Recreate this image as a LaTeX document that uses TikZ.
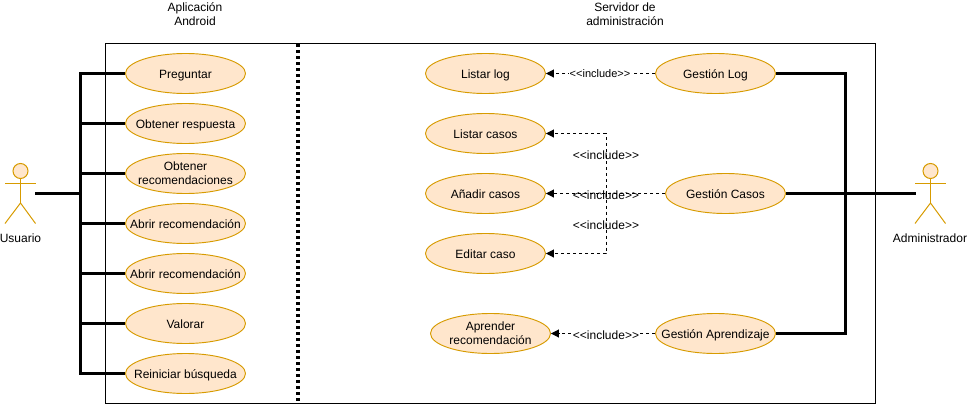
\documentclass[tikz,border=0pt]{standalone}
\usepackage{fontspec}
\setmainfont{Liberation Sans}
\usetikzlibrary{arrows.meta, positioning, shapes.geometric}
\definecolor{usecasebg}{HTML}{FFE6CC}
\definecolor{usecaseborder}{HTML}{D79B00}

\begin{document}
\begin{tikzpicture}[
    x=0.75pt,
    y=-0.75pt,
    >=Stealth,
    font=\fontsize{9}{10.5}\selectfont,
    usecase/.style={ellipse, draw=usecaseborder, fill=usecasebg, line width=0.7pt, minimum width=90pt, minimum height=30pt, inner xsep=-12pt, inner ysep=-2pt, align=center, text height=8pt, text depth=1pt},
    usecasetwo/.style={usecase, text height=19pt, text depth=2pt},
    actorline/.style={draw=usecaseborder, line width=0.75pt},
    bus/.style={line width=2.25pt, line join=miter},
    incl/.style={line width=0.75pt, dash pattern=on 2.25pt off 2.25pt, -{Triangle[length=6pt,width=6pt]}},
    incllabel/.style={inner sep=0.5pt}
]
    \useasboundingbox (0,0) rectangle (968,407);

    % System frame
    \draw[line width=0.75pt] (105.5,43.5) rectangle (875.5,403.5);
    \draw[line width=3.4pt, dash pattern=on 2.25pt off 2.25pt] (298,44) -- (298,403);

    % Headers
    \node[align=center] (hdr_android) at (195,14) {Aplicación\\Android};
    \node[align=center] (hdr_server) at (625,14) {Servidor de\\administración};

    % --- ANDROID (Left Side) ---
    \node[usecase] (preguntar) at (185.5,73.5) {Preguntar};
    \node[usecase] (respuesta) at (185.5,123.5) {Obtener respuesta};
    \node[usecasetwo] (recomendaciones) at (185.5,173.5) {Obtener\\recomendaciones};
    \node[usecase] (abrir_a) at (185.5,223.5) {Abrir recomendación};
    \node[usecase] (abrir_b) at (185.5,273.5) {Abrir recomendación};
    \node[usecase] (valorar) at (185.5,323.5) {Valorar};
    \node[usecase] (reiniciar) at (185.5,373.5) {Reiniciar búsqueda};

    % --- SERVER (Right Side) ---
    \node[usecase] (listar_log) at (485.5,73.5) {Listar log};
    \node[usecase] (listar_casos) at (485.5,133.5) {Listar casos};
    \node[usecase] (anadir_casos) at (485.5,193.5) {Añadir casos};
    \node[usecase] (editar_caso) at (485.5,253.5) {Editar caso};
    \node[usecasetwo] (aprender) at (490.5,333.5) {Aprender\\recomendación};

    \node[usecase] (gest_log) at (715.5,73.5) {Gestión Log};
    \node[usecase] (gest_casos) at (725.5,193.5) {Gestión Casos};
    \node[usecase] (gest_apr) at (715.5,333.5) {Gestión Aprendizaje};

    % Usuario actor
    \node[circle, draw=usecaseborder, fill=usecasebg, line width=0.75pt, minimum size=11.25pt, inner sep=0pt] (usr_head) at (20.5,171) {};
    \coordinate (usr_hip) at (20.5,203);
    \coordinate (usr_hand) at (35,193);
    \draw[actorline] (usr_head) -- (usr_hip);
    \draw[actorline] (5,183.5) -- (35.5,183.5);
    \draw[actorline] (5,223.5) -- (usr_hip) -- (35.5,223.5);
    \node (usr_text) at (20.5,238) {Usuario};

    % Administrador actor
    \node[circle, draw=usecaseborder, fill=usecasebg, line width=0.75pt, minimum size=11.25pt, inner sep=0pt] (adm_head) at (930.5,171) {};
    \coordinate (adm_hip) at (930.5,203);
    \coordinate (adm_hand) at (915.5,193.5);
    \draw[actorline] (adm_head) -- (adm_hip);
    \draw[actorline] (915,183.5) -- (945.5,183.5);
    \draw[actorline] (915,223.5) -- (adm_hip) -- (945.5,223.5);
    \node (adm_text) at (930,238) {Administrador};

    % Usuario to use cases
    \coordinate (usr_bus) at (80.5,193.5);
    \draw[bus] (usr_hand |- usr_bus) -- (usr_bus);
    \draw[bus] (usr_bus) |- (preguntar);
    \draw[bus] (usr_bus) |- (respuesta);
    \draw[bus] (usr_bus) |- (recomendaciones);
    \draw[bus] (usr_bus) |- (abrir_a);
    \draw[bus] (usr_bus) |- (abrir_b);
    \draw[bus] (usr_bus) |- (valorar);
    \draw[bus] (usr_bus) |- (reiniciar);

    % Administrador to use cases
    \coordinate (adm_bus) at (845.5,193.5);
    \draw[bus] (adm_hand) -- (gest_casos);
    \draw[bus] (adm_bus) |- (gest_log);
    \draw[bus] (adm_bus) |- (gest_apr);

    % Include relations
    \coordinate (casos_split) at (606,193.5);
    \draw[incl] (gest_log) -- (listar_log);
    \draw[incl] (gest_casos) -- (anadir_casos);
    \draw[incl] (casos_split) |- (listar_casos);
    \draw[incl] (casos_split) |- (editar_caso);
    \draw[incl] (gest_apr) -- (aprender);

    % Include labels
    \node[incllabel, fill=white, font=\fontsize{8.25}{10}\selectfont] (lbl_log) at (600,74) {<{}<include>{}>};
    \node[incllabel] (lbl_listar) at (606,155) {<{}<include>{}>};
    \node[incllabel] (lbl_anadir) at (606,195) {<{}<include>{}>};
    \node[incllabel] (lbl_editar) at (606,225) {<{}<include>{}>};
    \node[incllabel, fill=white] (lbl_apr) at (606,335) {<{}<include>{}>};

\end{tikzpicture}
\end{document}
